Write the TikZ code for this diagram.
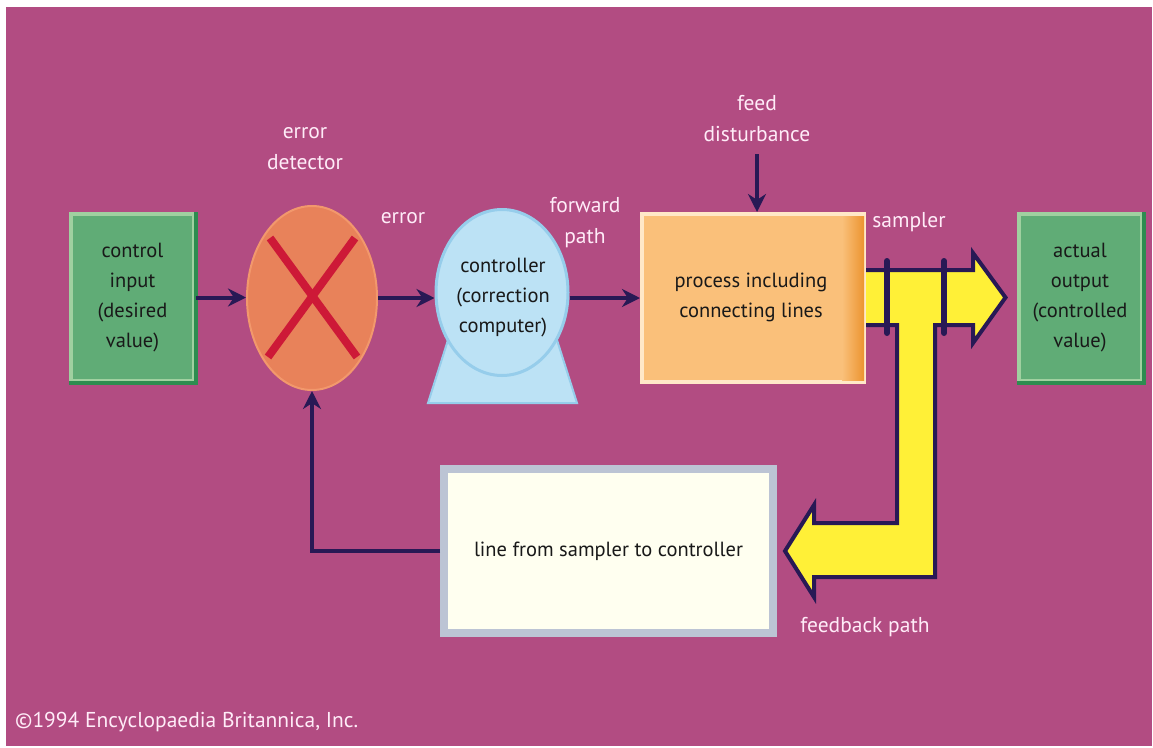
\documentclass[tikz,border=0pt]{standalone}
\usepackage{fontspec}
\setmainfont{PT Sans}
\usetikzlibrary{arrows.meta,shapes.geometric,calc}
\definecolor{bgmag}{RGB}{178,76,130}
\definecolor{navy}{RGB}{40,25,85}
\definecolor{boxgreen}{RGB}{96,172,118}
\definecolor{greenlight}{RGB}{160,208,160}
\definecolor{greendark}{RGB}{45,140,80}
\definecolor{peach}{RGB}{250,192,122}
\definecolor{peachlight}{RGB}{255,232,200}
\definecolor{peachdark}{RGB}{236,148,48}
\definecolor{detorange}{RGB}{232,130,90}
\definecolor{detedge}{RGB}{242,152,108}
\definecolor{xred}{RGB}{205,25,55}
\definecolor{ctrlblue}{RGB}{188,226,245}
\definecolor{ctrledge}{RGB}{150,205,235}
\definecolor{cream}{RGB}{255,255,240}
\definecolor{creamedge}{RGB}{188,196,212}
\definecolor{yel}{RGB}{255,240,55}
\definecolor{labelwhite}{RGB}{255,236,248}
\begin{document}
\begin{tikzpicture}[x=1pt,y=-1pt,
  every node/.style={font=\fontsize{20.5}{30}\selectfont, align=center, inner sep=0pt, text=black!90},
  lbl/.style={text=labelwhite, font=\fontsize{21.5}{31}\selectfont},
  greenbox/.style={rectangle, fill=boxgreen, draw=greenlight, line width=4pt,
    minimum width=123pt, minimum height=167pt},
  flow/.style={draw=navy, line width=4pt, -{Stealth[length=18pt,width=18pt]}},
  yband/.style={fill=yel, draw=navy, line width=4pt, line join=miter},
  sampbar/.style={draw=navy, line width=6pt, line cap=round}
]
% page and background
\fill[white] (0,0) rectangle (1153,747);
\fill[bgmag] (6,7) rectangle (1152,746);
\useasboundingbox (0,0) rectangle (1153,747);

% control input
\node[greenbox] (cin) at (132.5,297.5) {control\\input\\(desired\\value)};
\draw[greendark, line width=4pt] (cin.north east) -- (cin.south east) -- (cin.south west);

% error detector
\node[ellipse, fill=detorange, draw=detedge, line width=2pt,
  minimum width=130pt, minimum height=184pt] (det) at (312,298) {};
\draw[xred, line width=8pt] ($(det.center)+(-42,-60)$) -- ($(det.center)+(45,59)$);
\draw[xred, line width=8pt] ($(det.center)+(43,-60)$) -- ($(det.center)+(-44,59)$);

% controller (correction computer) with its base
\fill[ctrlblue, draw=ctrledge, line width=2pt] (428,403) -- (577,403) -- (557,340) -- (448,340) -- cycle;
\node[ellipse, fill=ctrlblue, draw=ctrledge, line width=3pt,
  minimum width=132pt, minimum height=166pt] (ctrl) at (502,292.5) {};
\node at (503,297.5) {controller\\(correction\\computer)};

% process including connecting lines
\node[rectangle, fill=peach, draw=peachlight, line width=4pt,
  minimum width=222pt, minimum height=168pt] (proc) at (753,298) {};
\shade[left color=peach, right color=peachdark] (842,216) rectangle (864,380);
\node at (751,297) {process including\\connecting lines};

% actual output
\node[greenbox] (out) at (1080,297.5) {actual\\output\\(controlled\\value)};
\draw[greendark, line width=4pt] (out.north east) -- (out.south east) -- (out.south west);

% feedback element
\node[rectangle, fill=cream, draw=creamedge, line width=8pt,
  minimum width=329pt, minimum height=164pt] (fb) at (608.5,551) {line from sampler to controller};

% output and feedback paths
\coordinate (tipout) at ($(out.west)+(-11,0)$);
\coordinate (tipfb) at ($(fb.east)+(8,0)$);
\filldraw[yband] ($(proc.east)+(0,27)$) -- (897,325) -- (897,523) -- (814,523) -- (814,505)
  -- (tipfb) -- (814,597) -- (814,577) -- (935,577) -- (935,325) -- (973,325) -- (973,343)
  -- (tipout) -- (973,253) -- (973,270) -- ($(proc.east)+(0,-28)$);
\draw[sampbar] (887,261) -- (887,333);
\draw[sampbar] (944,261) -- (944,333);

% signal lines
\draw[flow] (cin.east) -- (det.west |- cin.east);
\draw[flow] (det.east) -- (ctrl.west |- det.east);
\draw[flow] (ctrl.east |- proc.west) -- (proc.west);
\draw[navy, line width=3.5pt, -{Stealth[length=18pt,width=18pt]}] (fb.west) -| (det.south);

% labels
\node[lbl] (lbldet) at (305,149) {error\\detector};
\node[lbl] (lblerr) at (403,218) {error};
\node[lbl] (lblfwd) at (585,223) {forward\\path};
\node[lbl] (lblfeed) at (757,119) {feed\\disturbance};
\node[lbl] (lblsamp) at (909,222) {sampler};
\node[lbl] (lblfb) at (865,627) {feedback path};
\draw[flow, shorten <=12pt] (lblfeed.south) -- (lblfeed.south |- proc.north);

\node[lbl, anchor=west] (copy) at (15,722) {©1994 Encyclopaedia Britannica, Inc.};
\end{tikzpicture}
\end{document}
